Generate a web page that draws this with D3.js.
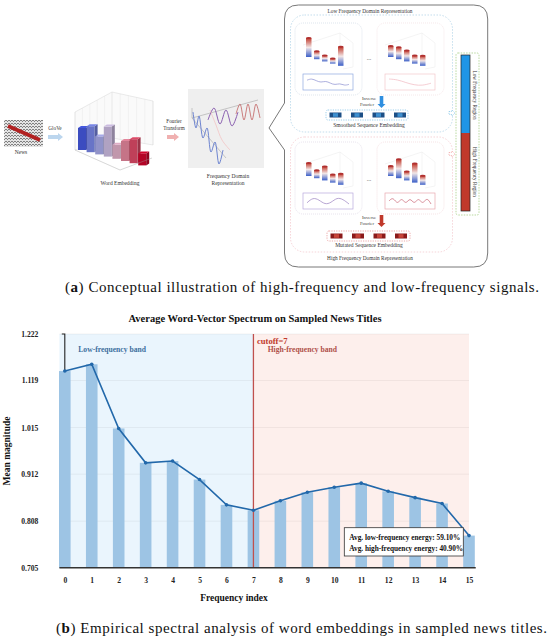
<!DOCTYPE html>
<html>
<head>
<meta charset="utf-8">
<script src="https://cdn.jsdelivr.net/npm/d3@7"></script>
<style>
  body { margin: 0; background: #fff; }
  svg { display: block; }
  text { font-family: "Liberation Serif", "DejaVu Serif", serif; }
</style>
</head>
<body>
<div id="fig"></div>
<script>
// ---- chart (b) data ----
const freqIndex = [0, 1, 2, 3, 4, 5, 6, 7, 8, 9, 10, 11, 12, 13, 14, 15];
const meanMagnitude = [1.140, 1.155, 1.013, 0.937, 0.941, 0.900, 0.844, 0.832,
  0.853, 0.872, 0.883, 0.892, 0.874, 0.860, 0.847, 0.776];
const yTicks = [0.705, 0.808, 0.912, 1.015, 1.119, 1.222];
const cutoff = 7;
const energyLines = ['Avg. low-frequency energy: 59.10%', 'Avg. high-frequency energy: 40.90%'];

// ---- illustration (a) pieces ----
const embedHeights = [22, 26, 18, 30, 14, 20, 24, 12];
const lowBars1 = [18, 7, 5, 4, 18];
const lowBars2 = [10, 11, 10, 7, 9];
const highBars1 = [12, 7, 13, 7, 10];
const highBars2 = [9, 18, 8, 18, 8];
const waveLow1 = [-0.3, -0.6, -0.2, 0.1, -0.2, 0.2, 0.5, 0.2, 0.6, 0.4];
const waveLow2 = [-0.5, -0.4, 0.1, 0.5, 0.6, 0.2];
const waveHigh1 = [0.3, -0.6, -0.2, 0.6, 0.3, -0.6, -0.3, 0.5];
const waveHigh2 = [0, -0.7, 0.7, -0.7, 0.7, -0.7, 0.7, -0.7, 0.7, -0.7, 0.5];

const svg = d3.select('#fig').append('svg').attr('width', 550).attr('height', 641);
const defs = svg.append('defs');

// ===================== illustration (a) =====================
const il = svg.append('g');
const coolwarm = d3.interpolateRgbBasis(['#3b4cc0', '#dcdcdc', '#b40426']);

const cyl = defs.append('linearGradient').attr('id', 'cyl').attr('x1', 0).attr('y1', 0).attr('x2', 0).attr('y2', 1);
cyl.append('stop').attr('offset', '0%').attr('stop-color', '#c0392b');
cyl.append('stop').attr('offset', '50%').attr('stop-color', '#f2e6e6');
cyl.append('stop').attr('offset', '100%').attr('stop-color', '#3b5fc8');

const pat = defs.append('pattern').attr('id', 'newsPat').attr('width', 3).attr('height', 3)
  .attr('patternUnits', 'userSpaceOnUse');
pat.append('rect').attr('width', 3).attr('height', 3).attr('fill', '#e4e4e4');
pat.append('path').attr('d', 'M0,0 L2,2 M2,0 L3,1').attr('stroke', '#555').attr('stroke-width', 0.7);

const smallText = (x, y, t, size = 5.2, fill = '#333', anchor = 'middle') =>
  il.append('text').attr('x', x).attr('y', y).attr('text-anchor', anchor)
    .attr('font-size', size).attr('fill', fill).text(t);

// news thumbnail
il.append('rect').attr('x', 4).attr('y', 120).attr('width', 39).attr('height', 27).attr('fill', 'url(#newsPat)');
il.append('line').attr('x1', 8).attr('y1', 126).attr('x2', 40).attr('y2', 140)
  .attr('stroke', '#b22222').attr('stroke-width', 4);
smallText(21, 154, 'News', 5.5);

// block arrow helper
const blockArrow = (x0, x1, yc, fill) =>
  il.append('path').attr('fill', fill)
    .attr('d', `M${x0},${yc - 2} L${x1 - 5},${yc - 2} L${x1 - 5},${yc - 4} L${x1},${yc} L${x1 - 5},${yc + 4} L${x1 - 5},${yc + 2} L${x0},${yc + 2} Z`);
blockArrow(48, 63, 137, '#bcd6ee');
smallText(55, 130, 'GloVe', 5.2);
blockArrow(167, 179, 137, '#f0b0b0');
smallText(174, 123, 'Fourier', 5.2);
smallText(174, 129.5, 'Transform', 5.2);

// 3D word embedding (simplified)
const eg = il.append('g');
eg.append('path').attr('fill', '#fafafa').attr('stroke', '#ccc').attr('stroke-width', 0.4)
  .attr('d', 'M75,112 L112,92 L153,101 L153,145 L112,138 L75,150 Z');
d3.range(6).forEach(k => {
  eg.append('line').attr('x1', 75 + k * 7.4).attr('y1', 112 - k * 4).attr('x2', 75 + k * 7.4).attr('y2', 150 - k * 2.4)
    .attr('stroke', '#ddd').attr('stroke-width', 0.3);
  eg.append('line').attr('x1', 112 + k * 8.2).attr('y1', 92 + k * 1.8).attr('x2', 112 + k * 8.2).attr('y2', 138 + k * 1.4)
    .attr('stroke', '#ddd').attr('stroke-width', 0.3);
});
embedHeights.forEach((h, i) => {
  const bx = 78 + i * 8.6, by = 150 + i * 2.2, c = coolwarm(i / (embedHeights.length - 1));
  eg.append('rect').attr('x', bx).attr('y', by - h).attr('width', 8).attr('height', h).attr('fill', c);
  eg.append('path').attr('fill', d3.color(c).darker(0.6))
    .attr('d', `M${bx + 8},${by - h} l3,-2 l0,${h} l-3,2 Z`);
  eg.append('path').attr('fill', d3.color(c).brighter(0.4))
    .attr('d', `M${bx},${by - h} l3,-2 l8,0 l-3,2 Z`);
});
eg.append('path').attr('fill', 'none').attr('stroke', '#999').attr('stroke-width', 0.4)
  .attr('d', 'M75,150 L120,170 L152,158');
smallText(120, 185, 'Word  Embedding', 5.5);

// frequency domain picture
il.append('rect').attr('x', 188).attr('y', 89).attr('width', 76).attr('height', 79).attr('fill', '#efefef');
il.append('path').attr('fill', 'none').attr('stroke', '#999').attr('stroke-width', 0.5)
  .attr('d', 'M192,118 L258,100 M192,118 L226,158 M192,118 L192,108');
const wavePath = (pts, stroke, w = 0.8) =>
  il.append('path').attr('fill', 'none').attr('stroke', stroke).attr('stroke-width', w)
    .attr('d', d3.line().curve(d3.curveCatmullRom)(pts));
wavePath([[193, 112], [196, 128], [199, 116], [203, 138], [207, 128], [211, 152], [215, 142], [219, 164], [223, 150]], '#6d84d0', 1);
wavePath([[208, 120], [214, 108], [220, 124], [226, 110], [232, 126], [238, 112]], '#8a5fb0', 1);
wavePath([[210, 110], [216, 125], [222, 140], [230, 150]], '#f2c4c4', 0.8);
wavePath([[236, 114], [240, 104], [244, 120], [248, 104], [252, 120], [256, 104], [260, 118]], '#c06060', 0.8);
smallText(228, 178, 'Frequency Domain', 5.5);
smallText(228, 185, 'Representation', 5.5);

// big rounded callout box
il.append('path').attr('fill', 'none').attr('stroke', '#555').attr('stroke-width', 0.8)
  .attr('d', 'M298.5,5 L473.7,5 Q487.7,5 487.7,19 L487.7,253 Q487.7,267 473.7,267 L298.5,267 Q284.5,267 284.5,253 L284.5,150 L269,128 L284.5,103 L284.5,19 Q284.5,5 298.5,5 Z');
smallText(370, 12.5, 'Low Frequency Domain Representation', 5.3);
smallText(370, 260, 'High Frequency Domain Representation', 5.3);

il.append('rect').attr('x', 290.5).attr('y', 15).attr('width', 162).attr('height', 117).attr('rx', 14)
  .attr('fill', 'none').attr('stroke', '#9cc8e0').attr('stroke-width', 0.6).attr('stroke-dasharray', '1.5,1.5');
il.append('rect').attr('x', 290.5).attr('y', 137).attr('width', 162).attr('height', 115).attr('rx', 14)
  .attr('fill', 'none').attr('stroke', '#f0b8c0').attr('stroke-width', 0.6).attr('stroke-dasharray', '1.5,1.5');

const panel = (px, py, border, bars, wave, waveColor, boxColor) => {
  il.append('rect').attr('x', px).attr('y', py).attr('width', 67).attr('height', 72).attr('rx', 8)
    .attr('fill', '#fff').attr('stroke', border).attr('stroke-width', 0.6).attr('stroke-dasharray', '1,1');
  // faint 3D grid
  il.append('path').attr('fill', 'none').attr('stroke', '#e2e2e2').attr('stroke-width', 0.4)
    .attr('d', `M${px + 8},${py + 22} L${px + 45},${py + 10} L${px + 58},${py + 20} L${px + 58},${py + 44} L${px + 48},${py + 46} M${px + 45},${py + 10} L${px + 45},${py + 34}`);
  bars.forEach((h, i) => {
    const bx = px + 11 + i * 8, base = py + 33 + i * 2.2;
    il.append('rect').attr('x', bx).attr('y', base - h).attr('width', 5.5).attr('height', h + 1)
      .attr('fill', 'url(#cyl)');
    il.append('ellipse').attr('cx', bx + 2.75).attr('cy', base - h).attr('rx', 2.75).attr('ry', 1)
      .attr('fill', '#b03030');
  });
  const bx0 = px + 8, by0 = py + 51, bw = 50, bh = 16;
  il.append('rect').attr('x', bx0).attr('y', by0).attr('width', bw).attr('height', bh)
    .attr('fill', 'none').attr('stroke', boxColor).attr('stroke-width', 0.7);
  const wx = d3.scaleLinear().domain([0, wave.length - 1]).range([bx0 + 4, bx0 + bw - 4]);
  il.append('path').attr('fill', 'none').attr('stroke', waveColor).attr('stroke-width', 0.7)
    .attr('d', d3.line().curve(d3.curveBasis).x((d, i) => wx(i)).y(d => by0 + bh / 2 + d * 6)(wave));
};
panel(295, 23, '#c8d4e0', lowBars1, waveLow1, '#8a8ed0', '#8fa8e0');
panel(377, 23, '#f0d8dc', lowBars2, waveLow2, '#f0b8c0', '#f2c8cc');
panel(295, 142, '#d8d0e0', highBars1, waveHigh1, '#9a80c0', '#b8a8dc');
panel(377, 142, '#f0d0d4', highBars2, waveHigh2, '#c86070', '#e8a8b0');
smallText(369, 60, '...', 6, '#666');
smallText(369, 181, '...', 6, '#666');

// inverse fourier arrows
const downArrow = (xc, y0, y1, fill) =>
  il.append('path').attr('fill', fill)
    .attr('d', `M${xc - 1.8},${y0} L${xc + 1.8},${y0} L${xc + 1.8},${y1 - 4} L${xc + 4},${y1 - 4} L${xc},${y1} L${xc - 4},${y1 - 4} L${xc - 1.8},${y1 - 4} Z`);
smallText(369, 100, 'Inverse', 4.8, '#444', 'middle');
smallText(367, 106, 'Fourier', 4.8, '#444', 'middle');
downArrow(381.5, 96, 108, '#2f8fe0');
smallText(369, 219, 'Inverse', 4.8, '#444', 'middle');
smallText(367, 225, 'Fourier', 4.8, '#444', 'middle');
downArrow(381.5, 215, 227, '#c0392b');

// sequence embeddings
const strip = (x0, y0, w, stroke, dark, light) => {
  il.append('rect').attr('x', x0).attr('y', y0).attr('width', w).attr('height', 10).attr('rx', 2)
    .attr('fill', 'none').attr('stroke', stroke).attr('stroke-width', 0.6).attr('stroke-dasharray', '1.2,1.2');
  d3.range(4).forEach(k => {
    const bx = x0 + 3.5 + k * 21.5;
    il.append('rect').attr('x', bx).attr('y', y0 + 2.5).attr('width', 12).attr('height', 5).attr('fill', dark);
    il.append('rect').attr('x', bx + 3.5).attr('y', y0 + 3.2).attr('width', 5).attr('height', 3.6).attr('fill', light);
  });
};
strip(326, 110, 82, '#5ab0e0', '#1c4f86', '#3e90d0');
smallText(369, 127, 'Smoothed Sequence Embedding', 5.5);
strip(327, 231, 83, '#e07070', '#8b1a1a', '#c8453a');
smallText(369, 247, 'Mutated Sequence Embedding', 5.5);

// small dashed arrows
const hollowArrow = (x0, yc, stroke) =>
  il.append('path').attr('fill', '#fff').attr('stroke', stroke).attr('stroke-width', 0.6).attr('stroke-dasharray', '1,0.8')
    .attr('d', `M${x0},${yc - 1.5} L${x0 + 3},${yc - 1.5} L${x0 + 3},${yc - 3} L${x0 + 6},${yc} L${x0 + 3},${yc + 3} L${x0 + 3},${yc + 1.5} L${x0},${yc + 1.5} Z`);
hollowArrow(449, 113, '#6ab8e0');
hollowArrow(449, 154, '#f09090');

// frequency region bar
il.append('rect').attr('x', 456).attr('y', 53).attr('width', 23).attr('height', 162).attr('rx', 2)
  .attr('fill', 'none').attr('stroke', '#8cc060').attr('stroke-width', 0.6).attr('stroke-dasharray', '1.5,1.2');
il.append('rect').attr('x', 461).attr('y', 55).attr('width', 9).attr('height', 78).attr('fill', '#1f95e6');
il.append('rect').attr('x', 461).attr('y', 133).attr('width', 9).attr('height', 78).attr('fill', '#c0392b');
il.append('rect').attr('x', 461).attr('y', 55).attr('width', 9).attr('height', 156)
  .attr('fill', 'none').attr('stroke', '#222').attr('stroke-width', 0.7);
il.append('text').attr('transform', 'translate(473,95) rotate(90)').attr('text-anchor', 'middle')
  .attr('font-size', 5.2).attr('fill', '#333').text('Low Frequency Region');
il.append('text').attr('transform', 'translate(473,172) rotate(90)').attr('text-anchor', 'middle')
  .attr('font-size', 5.2).attr('fill', '#333').text('High Frequency Region');

// caption (a)
const capA = svg.append('text').attr('x', 302).attr('y', 292).attr('text-anchor', 'middle')
  .attr('font-size', 15).attr('fill', '#111')
  .attr('textLength', 474).attr('lengthAdjust', 'spacing');
capA.append('tspan').text('(');
capA.append('tspan').attr('font-weight', 'bold').text('a');
capA.append('tspan').text(') Conceptual illustration of high-frequency and low-frequency signals.');

// ===================== chart (b) =====================
const x = d3.scaleLinear().domain([0, 15]).range([64.8, 469]);
const y = d3.scaleLinear().domain([0.705, 1.222]).range([567.7, 334]);
const ch = svg.append('g');

ch.append('rect').attr('x', x(-0.2)).attr('y', y(1.222)).attr('width', x(cutoff) - x(-0.2))
  .attr('height', y(0.705) - y(1.222)).attr('fill', '#eaf5fd');
ch.append('rect').attr('x', x(cutoff)).attr('y', y(1.222)).attr('width', x(15) - x(cutoff))
  .attr('height', y(0.705) - y(1.222)).attr('fill', '#fdefec');

ch.selectAll('.grid').data(yTicks).join('line').attr('class', 'grid')
  .attr('x1', x(-0.2)).attr('x2', x(15)).attr('y1', d => y(d)).attr('y2', d => y(d))
  .attr('stroke', '#000').attr('stroke-opacity', 0.05).attr('stroke-width', 1);

ch.selectAll('.bar').data(meanMagnitude).join('rect').attr('class', 'bar')
  .attr('x', (d, i) => x(freqIndex[i]) - 5.8)
  .attr('y', d => y(d))
  .attr('width', 11.6)
  .attr('height', d => y(0.705) - y(d))
  .attr('fill', '#9dc4e4');

// cutoff line
ch.append('line').attr('x1', x(cutoff)).attr('x2', x(cutoff)).attr('y1', y(1.222)).attr('y2', y(0.705))
  .attr('stroke', '#c0504d').attr('stroke-width', 1.3);

// hook at first index
ch.append('path').attr('fill', 'none').attr('stroke', '#222').attr('stroke-width', 1.1)
  .attr('d', `M${x(0) - 3},${y(1.222)} L${x(0)},${y(1.222)} L${x(0)},${y(meanMagnitude[0])}`);

// line + markers
ch.append('path').datum(meanMagnitude)
  .attr('fill', 'none').attr('stroke', '#2268aa').attr('stroke-width', 1.6)
  .attr('d', d3.line().x((d, i) => x(freqIndex[i])).y(d => y(d)));
ch.selectAll('.pt').data(meanMagnitude).join('circle').attr('class', 'pt')
  .attr('cx', (d, i) => x(freqIndex[i])).attr('cy', d => y(d)).attr('r', 1.8).attr('fill', '#2268aa');

// axes
ch.append('line').attr('x1', x(-0.2)).attr('x2', x(15.25)).attr('y1', y(0.705)).attr('y2', y(0.705))
  .attr('stroke', '#333').attr('stroke-width', 1.5);
const xAxis = ch.append('g').attr('transform', `translate(0,${y(0.705)})`)
  .call(d3.axisBottom(x).tickValues(freqIndex).tickFormat(d3.format('d')).tickSize(0).tickPadding(9.5));
xAxis.select('.domain').remove();
xAxis.selectAll('text').attr('font-family', '"Liberation Serif", serif').attr('font-weight', 'bold')
  .attr('font-size', 7.6).attr('fill', '#222');

const yAxis = ch.append('g').attr('transform', `translate(${x(-0.2)},0)`)
  .call(d3.axisLeft(y).tickValues(yTicks).tickFormat(d3.format('.3f')).tickSize(0).tickPadding(21));
yAxis.select('.domain').remove();
yAxis.selectAll('text').attr('font-family', '"Liberation Serif", serif').attr('font-weight', 'bold')
  .attr('font-size', 7.6).attr('fill', '#222');

// labels
ch.append('text').attr('x', 255).attr('y', 321.5).attr('text-anchor', 'middle')
  .attr('font-weight', 'bold').attr('font-size', 10.5).attr('fill', '#111')
  .text('Average Word-Vector Spectrum on Sampled News Titles');
ch.append('text').attr('transform', 'translate(10,451) rotate(-90)').attr('text-anchor', 'middle')
  .attr('font-weight', 'bold').attr('font-size', 9.5).attr('fill', '#111').text('Mean magnitude');
ch.append('text').attr('x', 234).attr('y', 601).attr('text-anchor', 'middle')
  .attr('font-weight', 'bold').attr('font-size', 9.5).attr('fill', '#111').text('Frequency index');

ch.append('text').attr('x', 78.3).attr('y', 351.5).attr('font-weight', 'bold').attr('font-size', 7.6)
  .attr('fill', '#3d6f9e').text('Low-frequency band');
ch.append('text').attr('x', x(cutoff) + 3.5).attr('y', 344.3).attr('font-weight', 'bold').attr('font-size', 8.6)
  .attr('fill', '#c0392b').text('cutoff=' + cutoff);
ch.append('text').attr('x', 267.7).attr('y', 352.3).attr('font-weight', 'bold').attr('font-size', 7.6)
  .attr('fill', '#b0504a').text('High-frequency band');

// energy box
ch.append('rect').attr('x', 344.3).attr('y', 527.7).attr('width', 119).attr('height', 28.3)
  .attr('fill', '#fff').attr('stroke', '#333').attr('stroke-width', 0.8);
ch.selectAll('.en').data(energyLines).join('text').attr('class', 'en')
  .attr('x', 349.3).attr('y', (d, i) => 539.5 + i * 11.6)
  .attr('font-weight', 'bold').attr('font-size', 7.3).attr('fill', '#111').text(d => d);

// caption (b)
const capB = svg.append('text').attr('x', 301.5).attr('y', 632.5).attr('text-anchor', 'middle')
  .attr('font-size', 15).attr('fill', '#111')
  .attr('textLength', 491).attr('lengthAdjust', 'spacing');
capB.append('tspan').text('(');
capB.append('tspan').attr('font-weight', 'bold').text('b');
capB.append('tspan').text(') Empirical spectral analysis of word embeddings in sampled news titles.');
</script>
</body>
</html>
